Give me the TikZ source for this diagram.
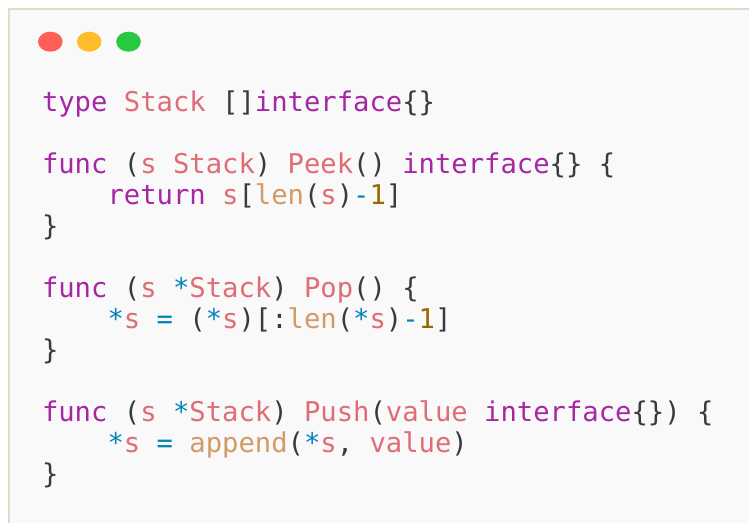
\documentclass[tikz,border=0pt]{standalone}
\usepackage{fontspec}
\setmonofont{DejaVu Sans Mono}
\usepackage{tikz}

\definecolor{kwpurple}{HTML}{A626A4}
\definecolor{idpink}{HTML}{E06C75}
\definecolor{fnorange}{HTML}{D19A66}
\definecolor{numgold}{HTML}{986801}
\definecolor{opcyan}{HTML}{0184BC}
\definecolor{punctgray}{HTML}{383A42}
\definecolor{panelbg}{HTML}{F9F9F9}
\definecolor{panelrule}{HTML}{DEDBC8}
\definecolor{dotred}{HTML}{FF5F56}
\definecolor{dotyellow}{HTML}{FFBD2E}
\definecolor{dotgreen}{HTML}{27C93F}

\newcommand{\kw}[1]{\textcolor{kwpurple}{#1}}
\newcommand{\idt}[1]{\textcolor{idpink}{#1}}
\newcommand{\fnc}[1]{\textcolor{fnorange}{#1}}
\newcommand{\cnum}[1]{\textcolor{numgold}{#1}}
\newcommand{\opc}[1]{\textcolor{opcyan}{#1}}

\begin{document}
\begin{tikzpicture}[x=1pt, y=-1pt]
    \useasboundingbox (0,0) rectangle (749,522);
    \fill[white] (0,0) rectangle (749,522);
    \draw[panelrule, fill=panelbg, line width=2pt] (9,9) rectangle (760,540);
    % window buttons
    \fill[dotred]    (50.3,41.7)  ellipse [x radius=12.3, y radius=10];
    \fill[dotyellow] (89.2,41.7)  ellipse [x radius=12.3, y radius=10];
    \fill[dotgreen]  (128.5,41.7) ellipse [x radius=12.3, y radius=10];
    \begin{scope}[every node/.style = {anchor=base west, inner sep=0, outer sep=0,
        font=\ttfamily\fontsize{27.2}{31}\selectfont, text=punctgray}]
      \node (type)    at (42,    111) {\kw{type} \idt{Stack} []\kw{interface}\{\}};
      \node (peek)    at (42,    173) {\kw{func} (\idt{s} \idt{Stack}) \idt{Peek}() \kw{interface}\{\} \{};
      \node (ret)     at (107.6, 204) {\kw{return} \idt{s}[\fnc{len}(\idt{s})\opc{-}\cnum{1}]};
      \node (peekend) at (42,    235) {\}};
      \node (pop)     at (42,    297) {\kw{func} (\idt{s} \opc{*}\idt{Stack}) \idt{Pop}() \{};
      \node (slice)   at (107.6, 328) {\opc{*}\idt{s} \opc{=} (\opc{*}\idt{s})[:\fnc{len}(\opc{*}\idt{s})\opc{-}\cnum{1}]};
      \node (popend)  at (42,    359) {\}};
      \node (push)    at (42,    421) {\kw{func} (\idt{s} \opc{*}\idt{Stack}) \idt{Push}(\idt{value} \kw{interface}\{\}) \{};
      \node (app)     at (107.6, 452) {\opc{*}\idt{s} \opc{=} \fnc{append}(\opc{*}\idt{s}, \idt{value})};
      \node (pushend) at (42,    483) {\}};
    \end{scope}
\end{tikzpicture}
\end{document}
